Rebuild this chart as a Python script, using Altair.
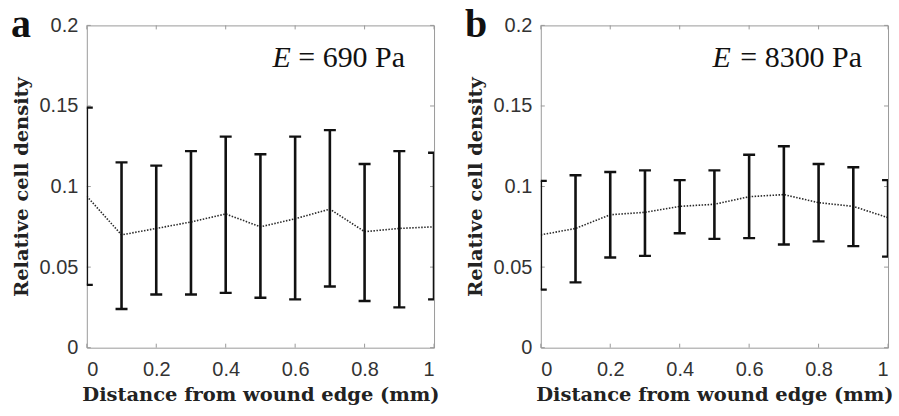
import altair as alt
import pandas as pd

# ---- data ----
DIST = [0.0, 0.1, 0.2, 0.3, 0.4, 0.5, 0.6, 0.7, 0.8, 0.9, 1.0]

MEAN_A = [0.094, 0.070, 0.074, 0.078, 0.083, 0.075, 0.080, 0.086, 0.072, 0.074, 0.075]
UPPER_A = [0.149, 0.115, 0.113, 0.122, 0.131, 0.120, 0.131, 0.135, 0.114, 0.122, 0.121]
LOWER_A = [0.039, 0.024, 0.033, 0.033, 0.034, 0.031, 0.030, 0.038, 0.029, 0.025, 0.030]

MEAN_B = [0.070, 0.074, 0.0825, 0.084, 0.0877, 0.089, 0.0937, 0.095, 0.090, 0.0877, 0.0807]
UPPER_B = [0.1035, 0.107, 0.109, 0.110, 0.104, 0.110, 0.1197, 0.125, 0.114, 0.112, 0.104]
LOWER_B = [0.036, 0.0405, 0.056, 0.057, 0.071, 0.0675, 0.068, 0.064, 0.066, 0.063, 0.0565]

X_TICKS = [0, 0.2, 0.4, 0.6, 0.8, 1]
Y_TICKS = [0, 0.05, 0.1, 0.15, 0.2]
PANEL_LETTERS = ["a", "b"]
MODULI = ["= 690 Pa", "= 8300 Pa"]
X_TITLE = "Distance from wound edge (mm)"
Y_TITLE = "Relative cell density"

W, H = 348, 323
FRAME = "#9a9a9a"


def panel(mean, upper, lower, letter, modulus, e_x, rest_x):
    df = pd.DataFrame({"d": DIST, "m": mean, "hi": upper, "lo": lower})
    xs = alt.Scale(domain=[0, 1], nice=False, zero=False)
    ys = alt.Scale(domain=[0, 0.2], nice=False)
    xaxis = alt.Axis(values=X_TICKS, format="~g", title=X_TITLE, ticks=False,
                     domain=False, grid=False, labelPadding=12, titlePadding=6)
    yaxis = alt.Axis(values=Y_TICKS, format="~g", title=Y_TITLE, ticks=False,
                     domain=False, grid=False, labelPadding=9, titlePadding=8)

    def X(f):
        return alt.X(f, type="quantitative", scale=xs, axis=xaxis)

    def Y(f):
        return alt.Y(f, type="quantitative", scale=ys, axis=yaxis)

    base = alt.Chart(df)
    line = base.mark_line(strokeDash=[1.5, 1.5], strokeWidth=1.6, color="#2a2a2a",
                          clip=True).encode(x=X("d"), y=Y("m"))
    bars = base.mark_rule(strokeWidth=2.6, color="#111", clip=True).encode(
        x=X("d"), y=Y("lo"), y2="hi:Q")
    cap_hi = base.mark_rule(strokeWidth=2.4, color="#111", clip=True,
                            xOffset=-6, x2Offset=6).encode(x=X("d"), x2="d:Q", y=Y("hi"))
    cap_lo = base.mark_rule(strokeWidth=2.4, color="#111", clip=True,
                            xOffset=-6, x2Offset=6).encode(x=X("d"), x2="d:Q", y=Y("lo"))

    xt = alt.Chart(pd.DataFrame({"t": X_TICKS}))
    yt = alt.Chart(pd.DataFrame({"t": Y_TICKS}))
    tk_bot = xt.mark_rule(color=FRAME, strokeWidth=1).encode(
        x=X("t"), y=alt.value(H), y2=alt.value(H - 4))
    tk_top = xt.mark_rule(color=FRAME, strokeWidth=1).encode(
        x=X("t"), y=alt.value(0), y2=alt.value(4))
    tk_left = yt.mark_rule(color=FRAME, strokeWidth=1).encode(
        y=Y("t"), x=alt.value(0), x2=alt.value(4))
    tk_right = yt.mark_rule(color=FRAME, strokeWidth=1).encode(
        y=Y("t"), x=alt.value(W - 4), x2=alt.value(W))

    tdf = pd.DataFrame({"letter": [letter], "mod": [modulus], "e": ["E"]})
    tc = alt.Chart(tdf)
    let = tc.mark_text(font="Liberation Serif", fontWeight="bold", fontSize=40,
                       align="left", baseline="alphabetic", color="#111").encode(
        text="letter:N", x=alt.value(-76), y=alt.value(12))
    e_txt = tc.mark_text(font="Liberation Serif", fontStyle="italic", fontSize=30,
                         align="left", baseline="alphabetic", color="#111").encode(
        text="e:N", x=alt.value(e_x), y=alt.value(42))
    rest = tc.mark_text(font="Liberation Serif", fontSize=30,
                        align="left", baseline="alphabetic", color="#111").encode(
        text="mod:N", x=alt.value(rest_x), y=alt.value(42))

    return alt.layer(tk_bot, tk_top, tk_left, tk_right, line, bars, cap_hi, cap_lo,
                     let, e_txt, rest).properties(width=W, height=H)


pa = panel(MEAN_A, UPPER_A, LOWER_A, PANEL_LETTERS[0], MODULI[0], 186, 212)
pb = panel(MEAN_B, UPPER_B, LOWER_B, PANEL_LETTERS[1], MODULI[1], 172, 200)

chart = alt.hconcat(pa, pb, spacing=107, bounds="flush").properties(
    padding={"left": 10, "top": 4, "right": 5, "bottom": 5},
    background="white"
).configure_view(stroke=FRAME, strokeWidth=1).configure_axis(
    labelFont="Liberation Sans", labelFontSize=20, labelColor="#333",
    titleFont="DejaVu Serif", titleFontWeight="bold", titleFontSize=19.5,
    titleColor="#222"
)

chart.save("out.html", embed_options={"renderer": "svg", "actions": False})
